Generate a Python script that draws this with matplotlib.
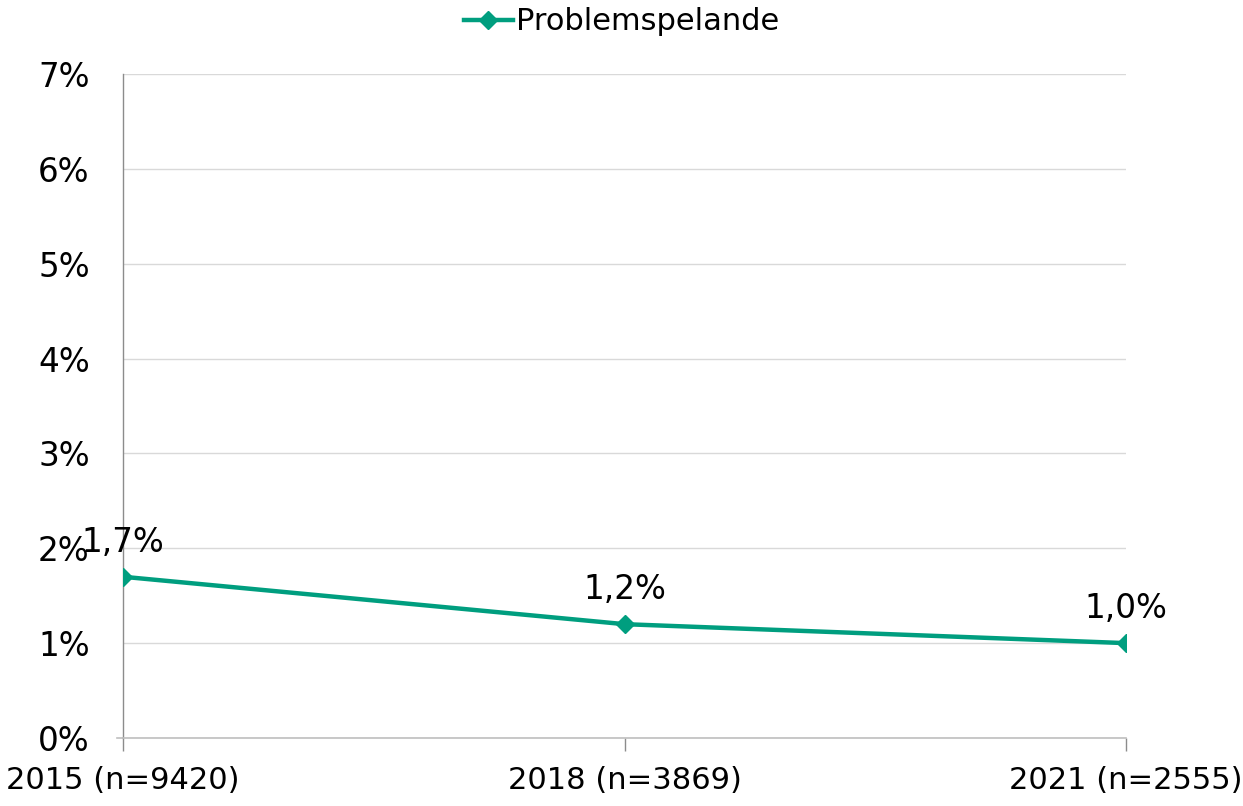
import numpy as np
import matplotlib.pyplot as plt
from matplotlib.lines import Line2D

# data
years = ["2015 (n=9420)", "2018 (n=3869)", "2021 (n=2555)"]
values = [1.7, 1.2, 1.0]
labels = ["1,7%", "1,2%", "1,0%"]
yticks = [0, 1, 2, 3, 4, 5, 6, 7]
series_name = "Problemspelande"

teal = "#009E7F"

fig = plt.figure(figsize=(12.43, 8.06), dpi=100)
ax = fig.add_axes([0.099, 0.0844, 0.807, 0.8236])

x = np.arange(len(years))
ax.plot(x, values, color=teal, lw=3.2, marker="D", ms=9, mec=teal, mfc=teal, zorder=3)

for xi, v, lab in zip(x, values, labels):
    ax.annotate(lab, (xi, v), xytext=(0, 13), textcoords="offset points",
                ha="center", va="bottom", fontsize=23.5, color="black")

ax.set_xlim(0, 2)
ax.set_ylim(0, 7)
ax.set_yticks(yticks)
ax.set_yticklabels([f"{t}%" for t in yticks], fontsize=23.5)
ax.set_xticks(x)
ax.set_xticklabels(years, fontsize=22)

ax.grid(axis="y", color="#D9D9D9", lw=1)
ax.set_axisbelow(True)
for s in ["top", "right"]:
    ax.spines[s].set_visible(False)
ax.spines["left"].set_color("#8C8C8C")
ax.spines["bottom"].set_color("#BFBFBF")
ax.spines["left"].set_linewidth(1)
ax.spines["bottom"].set_linewidth(1.2)
ax.tick_params(axis="y", length=0, pad=24)
ax.tick_params(axis="x", length=9, width=1, color="#8C8C8C", pad=11)

# x axis line reaches a little left of the y axis
ax.plot([-0.012, 0], [0, 0], color="#BFBFBF", lw=1.2, clip_on=False)

handle = Line2D([], [], color=teal, lw=3.2, marker="D", ms=9)
fig.legend([handle], [series_name], loc="upper center", bbox_to_anchor=(0.5, 1.025),
           frameon=False, fontsize=22, handlelength=1.6, handletextpad=0.1)

fig.savefig("out.png", dpi=100)
